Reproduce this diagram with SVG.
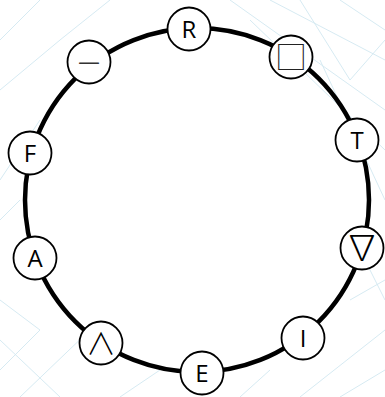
<svg xmlns="http://www.w3.org/2000/svg" width="385" height="397" viewBox="0 0 385 397">
<style>
.bg{stroke:#d2e8f1;stroke-width:1;fill:none}
.ring{fill:none;stroke:#000;stroke-width:4.5}
.node circle{fill:#fff;stroke:#000;stroke-width:1.8}
.node text{font-family:"Open Sans","DejaVu Sans",sans-serif;font-size:24px;text-anchor:middle;fill:#000}
.node text.sym{font-family:"Noto Sans CJK JP","DejaVu Sans",sans-serif;font-weight:300}
</style>
<rect width="385" height="397" fill="#fff"/>
<g id="background" opacity="0.9">
<path class="bg" d="M230 0 L385 110 M270 0 L385 60 M300 0 L350 80 L385 40 M340 0 L385 30 M250 20 L385 150 M320 60 L385 200 M0 90 L60 40 L110 0 M0 40 L40 0 M0 180 L40 120 M0 220 L20 200 M0 300 L40 330 L0 370 M0 340 L60 397 M20 397 L90 330 M300 397 L385 330 M340 397 L385 370 M360 250 L385 300 M350 300 L385 280 M120 397 L160 370 M240 397 L270 370"/>
</g>
<g id="connectors">
<circle class="ring" cx="197" cy="200" r="172"/>
</g>
<g id="node-R" class="node"><circle cx="189" cy="29" r="21.5"/><text x="189" y="37.5">R</text></g>
<g id="node-square" class="node"><circle cx="291" cy="57" r="21.5"/><text class="sym" x="291" y="69" style="font-size:32px;fill:#222">□</text></g>
<g id="node-T" class="node"><circle cx="357" cy="140" r="21.5"/><text x="357" y="148.5">T</text></g>
<g id="node-nabla" class="node"><circle cx="362" cy="248" r="21.5"/><text class="sym" x="362" y="260" style="font-size:35px">∇</text></g>
<g id="node-I" class="node"><circle cx="303" cy="338" r="21.5"/><text x="303" y="346.5">I</text></g>
<g id="node-E" class="node"><circle cx="202" cy="373" r="21.5"/><text x="202" y="381.5">E</text></g>
<g id="node-wedge" class="node"><circle cx="101" cy="343" r="21.5"/><text class="sym" x="101" y="354" style="font-size:30px">∧</text></g>
<g id="node-A" class="node"><circle cx="35" cy="258" r="21.5"/><text x="35" y="266.5">A</text></g>
<g id="node-F" class="node"><circle cx="30" cy="153" r="21.5"/><text x="30" y="161.5">F</text></g>
<g id="node-dash" class="node"><circle cx="89" cy="62" r="21.5"/><text x="89" y="69" style="font-size:22px;fill:#333;font-family:'DejaVu Sans',sans-serif">—</text></g>
</svg>
